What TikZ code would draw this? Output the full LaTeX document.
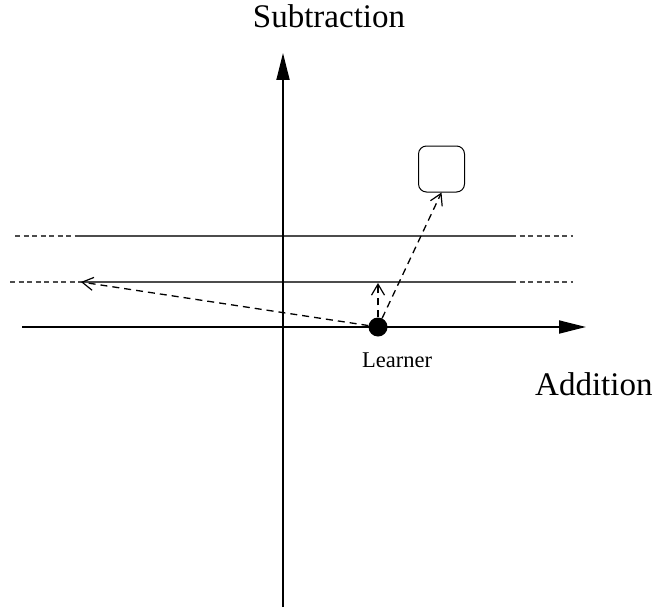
\documentclass[tikz,border=0pt]{standalone}
\usepackage{fontspec}
\setmainfont{Liberation Serif}
\usetikzlibrary{arrows.meta,positioning}
\tikzset{
  axis/.style={line width=1.8pt,-{Triangle[length=27pt,width=13pt]}},
  guide/.style={gray!60!black,line width=1.1pt},
  guidedash/.style={guide,dash pattern=on 5pt off 3.5pt},
  move/.style={line width=1.3pt,dash pattern=on 7pt off 5pt,-{Straight Barb[length=11pt,width=13pt,line width=1.2pt]}},
  biglabel/.style={inner sep=0pt,font=\fontsize{33}{36}\selectfont},
}
\begin{document}
\begin{tikzpicture}[x=1pt,y=-1pt]
\useasboundingbox (0,0) rectangle (652,607);
% guide lines
\draw[guide] (78,236) -- (511,236);
\draw[guide] (78,282) -- (511,282);
\draw[guidedash] (15,236) -- (78,236);
\draw[guidedash] (10,282) -- (78,282);
\draw[guidedash] (511,236) -- (573,236);
\draw[guidedash] (511,282) -- (573,282);
% axes
\draw[axis] (283,607) -- (283,53);
\draw[axis] (22,327) -- (586,327);
\node[biglabel,anchor=base] (sub) at (329,28) {Subtraction};
\node[biglabel,anchor=base west] (add) at (535,395) {Addition};
% learner and goal
\node[circle,fill=black,minimum size=19pt,inner sep=0pt] (learner) at (378,327) {};
\node[inner sep=0pt,anchor=base west,font=\fontsize{22.5}{24}\selectfont] (lname) at (362,367) {Learner};
\node[draw,line width=1pt,rounded corners=8pt,minimum size=46pt,inner sep=0pt] (goal) at (441.5,169) {};
\coordinate (left) at (81,282);
\coordinate (up) at (378,283);
\draw[move] (learner) -- (left);
\draw[move] (learner) -- (up);
\draw[move] (learner) -- (goal.south);
\end{tikzpicture}
\end{document}
